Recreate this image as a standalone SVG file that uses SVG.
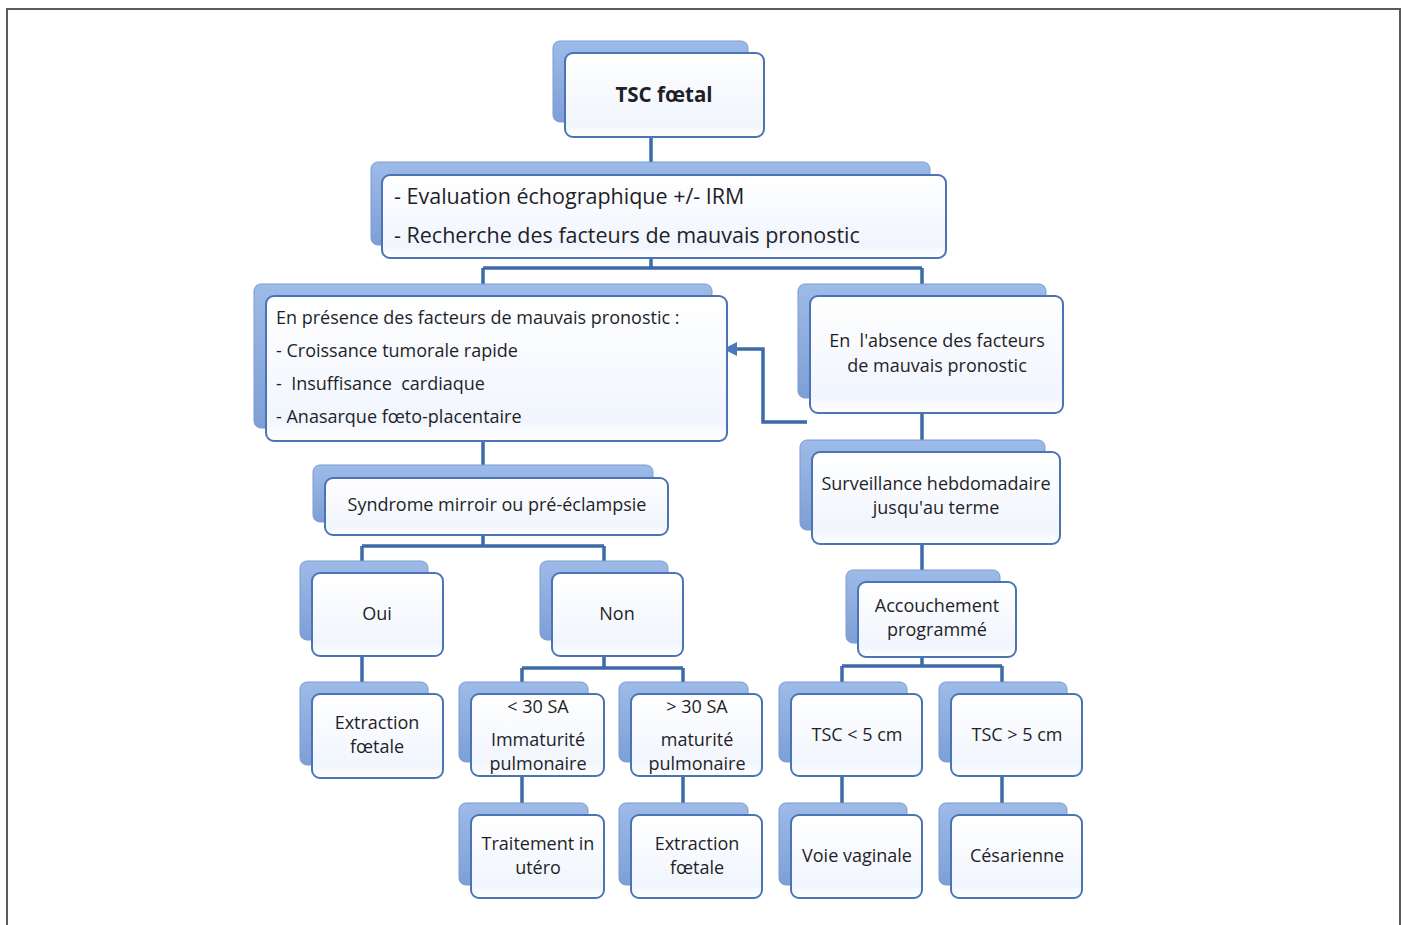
<svg xmlns="http://www.w3.org/2000/svg" width="1404" height="925" viewBox="0 0 1404 925">
<defs>
<linearGradient id="gb" x1="0" y1="0" x2="0" y2="1">
<stop offset="0" stop-color="#9dbbe8"/>
<stop offset="1" stop-color="#7e9fd6"/>
</linearGradient>
<linearGradient id="gf" x1="0" y1="0" x2="0" y2="1">
<stop offset="0" stop-color="#ffffff"/>
<stop offset="0.85" stop-color="#f1f5fd"/>
<stop offset="1" stop-color="#ffffff"/>
</linearGradient>
<marker id="ah" viewBox="0 0 10 10" refX="8" refY="5" markerWidth="4" markerHeight="4" orient="auto">
<path d="M0,0 L10,5 L0,10 z" fill="#4a78b8"/>
</marker>
</defs>
<style>
.bk{fill:url(#gb);stroke:#7b9bd0;stroke-width:1}
.fr{fill:url(#gf);stroke:#4a74b4;stroke-width:2}
.ln{fill:none;stroke:#3d6aa8;stroke-width:3.5}
.t{font-family:"Open Sans","DejaVu Sans",sans-serif;fill:#1f1f28;font-size:18px}
.c{text-anchor:middle}
.big{font-size:21.5px}
.ttl{font-size:20.5px;font-weight:bold}
</style>
<rect x="7" y="9" width="1393" height="930" fill="#ffffff" stroke="#5a5a5a" stroke-width="2"/>

<g id="connectors">
<path class="ln" d="M651,137 V175"/>
<path class="ln" d="M651,258 V268 M483,268 H922 M483,268 V284 M922,268 V284"/>
<path class="ln" d="M483,441 V465"/>
<path class="ln" d="M483,535 V546 M362,546 H604 M362,546 V561 M604,546 V561"/>
<path class="ln" d="M362,656 V682"/>
<path class="ln" d="M604,656 V668 M522,668 H683 M522,668 V682 M683,668 V682"/>
<path class="ln" d="M522,776 V803"/>
<path class="ln" d="M683,776 V803"/>
<path class="ln" d="M922,413 V440"/>
<path class="ln" d="M922,544 V570"/>
<path class="ln" d="M922,657 V666 M842,666 H1002 M842,666 V682 M1002,666 V682"/>
<path class="ln" d="M842,776 V803"/>
<path class="ln" d="M1002,776 V803"/>
<path class="ln" d="M807,422 H763 V349 H726" marker-end="url(#ah)"/>
</g>

<g id="n-tsc">
<rect class="bk" x="553" y="41" width="195" height="81" rx="7"/>
<rect class="fr" x="565" y="53" width="199" height="84" rx="8"/>
<text class="t c ttl" x="664" y="102">TSC fœtal</text>
</g>

<g id="n-eval">
<rect class="bk" x="371" y="162" width="559" height="83" rx="7"/>
<rect class="fr" x="382" y="175" width="564" height="83" rx="8"/>
<text class="t big" x="394" y="204">- Evaluation échographique +/- IRM</text>
<text class="t big" x="394" y="243">- Recherche des facteurs de mauvais pronostic</text>
</g>

<g id="n-presence">
<rect class="bk" x="254" y="284" width="458" height="144" rx="7"/>
<rect class="fr" x="266" y="296" width="461" height="145" rx="8"/>
<text class="t" x="276" y="324">En présence des facteurs de mauvais pronostic :</text>
<text class="t" x="276" y="357">- Croissance tumorale rapide</text>
<text class="t" x="276" y="390" xml:space="preserve">-  Insuffisance  cardiaque</text>
<text class="t" x="276" y="423">- Anasarque fœto-placentaire</text>
</g>

<g id="n-absence">
<rect class="bk" x="798" y="284" width="248" height="114" rx="7"/>
<rect class="fr" x="810" y="296" width="253" height="117" rx="8"/>
<text class="t c" x="937" y="347" xml:space="preserve">En  l'absence des facteurs</text>
<text class="t c" x="937" y="372">de mauvais pronostic</text>
</g>

<g id="n-syndrome">
<rect class="bk" x="313" y="465" width="340" height="57" rx="7"/>
<rect class="fr" x="325" y="478" width="343" height="57" rx="8"/>
<text class="t c" x="497" y="511">Syndrome mirroir ou pré-éclampsie</text>
</g>

<g id="n-surveillance">
<rect class="bk" x="800" y="440" width="245" height="90" rx="7"/>
<rect class="fr" x="812" y="452" width="248" height="92" rx="8"/>
<text class="t c" x="936" y="490">Surveillance hebdomadaire</text>
<text class="t c" x="936" y="514">jusqu'au terme</text>
</g>

<g id="n-oui">
<rect class="bk" x="300" y="561" width="128" height="79" rx="7"/>
<rect class="fr" x="312" y="573" width="131" height="83" rx="8"/>
<text class="t c" x="377" y="620">Oui</text>
</g>

<g id="n-non">
<rect class="bk" x="540" y="561" width="128" height="79" rx="7"/>
<rect class="fr" x="552" y="573" width="131" height="83" rx="8"/>
<text class="t c" x="617" y="620">Non</text>
</g>

<g id="n-accouchement">
<rect class="bk" x="846" y="570" width="154" height="73" rx="7"/>
<rect class="fr" x="858" y="582" width="158" height="75" rx="8"/>
<text class="t c" x="937" y="612">Accouchement</text>
<text class="t c" x="937" y="636">programmé</text>
</g>

<g id="n-extraction1">
<rect class="bk" x="300" y="682" width="128" height="83" rx="7"/>
<rect class="fr" x="312" y="694" width="131" height="84" rx="8"/>
<text class="t c" x="377" y="729">Extraction</text>
<text class="t c" x="377" y="753">fœtale</text>
</g>

<g id="n-inf30">
<rect class="bk" x="459" y="682" width="129" height="80" rx="7"/>
<rect class="fr" x="471" y="694" width="133" height="82" rx="8"/>
<text class="t c" x="538" y="713">&lt; 30 SA</text>
<text class="t c" x="538" y="746">Immaturité</text>
<text class="t c" x="538" y="770">pulmonaire</text>
</g>

<g id="n-sup30">
<rect class="bk" x="619" y="682" width="129" height="80" rx="7"/>
<rect class="fr" x="631" y="694" width="131" height="82" rx="8"/>
<text class="t c" x="697" y="713">&gt; 30 SA</text>
<text class="t c" x="697" y="746">maturité</text>
<text class="t c" x="697" y="770">pulmonaire</text>
</g>

<g id="n-tscinf5">
<rect class="bk" x="779" y="682" width="128" height="80" rx="7"/>
<rect class="fr" x="791" y="694" width="131" height="82" rx="8"/>
<text class="t c" x="857" y="741">TSC &lt; 5 cm</text>
</g>

<g id="n-tscsup5">
<rect class="bk" x="939" y="682" width="128" height="80" rx="7"/>
<rect class="fr" x="951" y="694" width="131" height="82" rx="8"/>
<text class="t c" x="1017" y="741">TSC &gt; 5 cm</text>
</g>

<g id="n-traitement">
<rect class="bk" x="459" y="803" width="129" height="82" rx="7"/>
<rect class="fr" x="471" y="815" width="133" height="83" rx="8"/>
<text class="t c" x="538" y="850">Traitement in</text>
<text class="t c" x="538" y="874">utéro</text>
</g>

<g id="n-extraction2">
<rect class="bk" x="619" y="803" width="129" height="82" rx="7"/>
<rect class="fr" x="631" y="815" width="131" height="83" rx="8"/>
<text class="t c" x="697" y="850">Extraction</text>
<text class="t c" x="697" y="874">fœtale</text>
</g>

<g id="n-voie">
<rect class="bk" x="779" y="803" width="128" height="82" rx="7"/>
<rect class="fr" x="791" y="815" width="131" height="83" rx="8"/>
<text class="t c" x="857" y="862">Voie vaginale</text>
</g>

<g id="n-cesarienne">
<rect class="bk" x="939" y="803" width="128" height="82" rx="7"/>
<rect class="fr" x="951" y="815" width="131" height="83" rx="8"/>
<text class="t c" x="1017" y="862">Césarienne</text>
</g>
</svg>
